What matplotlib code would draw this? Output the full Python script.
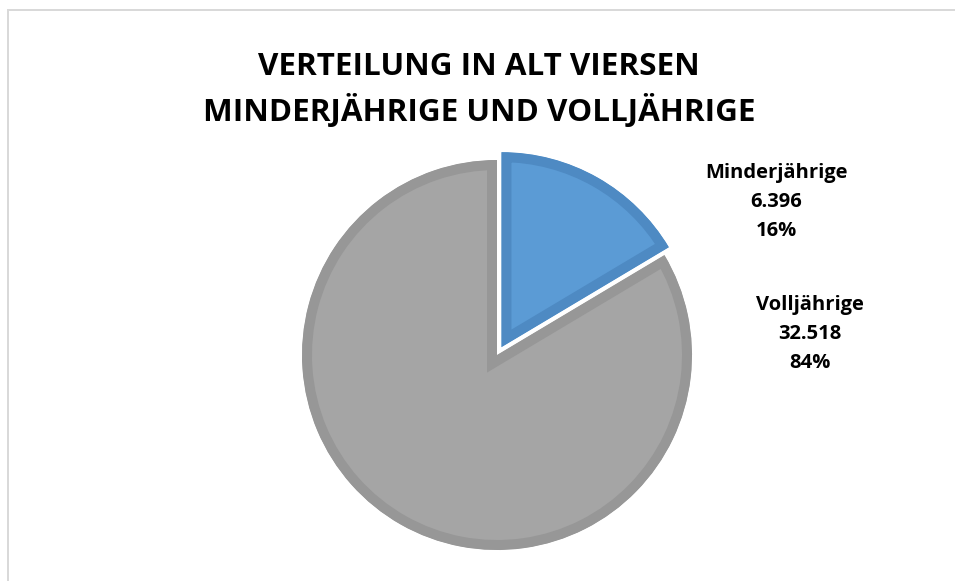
import matplotlib
matplotlib.use("Agg")
import matplotlib.pyplot as plt
from matplotlib.lines import Line2D

categories = ["Minderjährige", "Volljährige"]
values = [6396, 32518]
colors = ["#5B9BD5", "#A5A5A5"]
edge_colors = ["#4E8AC3", "#979797"]
title_lines = ["VERTEILUNG IN ALT VIERSEN", "MINDERJÄHRIGE UND VOLLJÄHRIGE"]

W, H = 955, 581
fig = plt.figure(figsize=(W / 100, H / 100), dpi=100)
ax = fig.add_axes([0, 0, 1, 1])

px = 72 / 100  # points per pixel
wedges, _ = ax.pie(values, center=(497, H - 355), radius=195, startangle=90,
                   counterclock=False, explode=[9, 0], colors=colors,
                   wedgeprops=dict(linewidth=20 * px))

ax.set_xlim(0, W)
ax.set_ylim(0, H)
ax.set_aspect("auto")
ax.axis("off")

for w, ec in zip(wedges, edge_colors):
    w.set_edgecolor(ec)
    w.set_clip_on(True)
    w.set_clip_path(w.get_path(), w.get_transform())

total = sum(values)
def fmt(v):
    return f"{v:,}".replace(",", ".")

label_pos = [(776, 202), (810, 334)]
for cat, v, (x, y) in zip(categories, values, label_pos):
    pct = round(100 * v / total)
    ax.text(x, H - y, f"{cat}\n{fmt(v)}\n{pct}%", ha="center", va="center",
            fontsize=14.5, fontweight="bold", family="Open Sans",
            linespacing=1.58, color="#000000")

fig.text(479 / W, 1 - 90 / H, "\n".join(title_lines), ha="center", va="center",
         fontsize=22.6, fontweight="bold", family="Open Sans", linespacing=1.45,
         color="#000000")

# chart frame
fig.add_artist(Line2D([8 / W, 1], [1 - 10 / H, 1 - 10 / H], transform=fig.transFigure,
                      color="#D9D9D9", linewidth=2 * px))
fig.add_artist(Line2D([8 / W, 8 / W], [1 - 10 / H, 0], transform=fig.transFigure,
                      color="#D9D9D9", linewidth=2 * px))

fig.savefig("out.png", dpi=100, facecolor="white")
